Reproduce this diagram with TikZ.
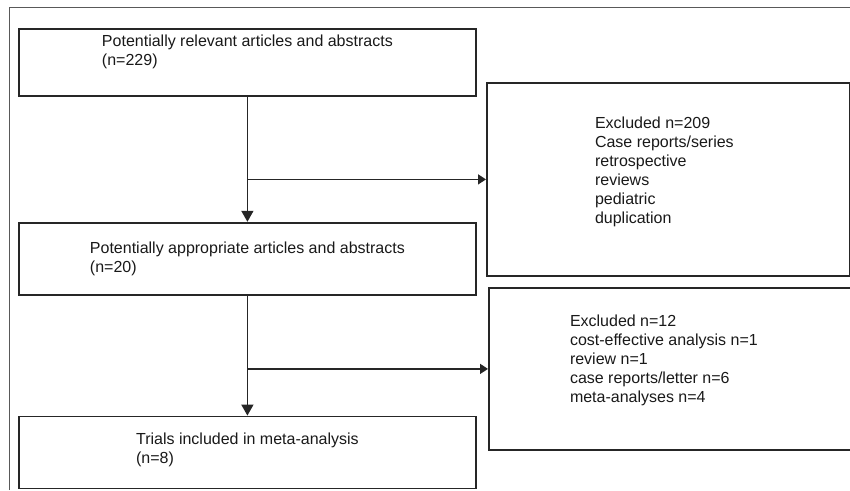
\documentclass[tikz,border=0pt]{standalone}
\usepackage{fontspec}
\setmainfont{Liberation Sans}
\usetikzlibrary{arrows.meta, positioning}

\begin{document}
\begin{tikzpicture}[
  x=1pt, y=-1pt,
  box/.style={draw=black!85, line width=1.8pt, minimum width=457pt, inner sep=0pt},
  txt/.style={align=left, inner sep=0pt, text=black!90, font=\fontsize{16}{19}\selectfont},
  arrow/.style={-{Triangle[length=11pt, width=12pt]}, line width=1.5pt, draw=black!85},
  sidearrow/.style={-{Triangle[length=8pt, width=10pt]}, line width=1.5pt, draw=black!85},
  frame/.style={draw=black!65, line width=1pt}
]
\clip (0,0) rectangle (850,490);

% Outer frame
\draw[frame] (9,490) -- (9,7) -- (850,7);

% Relevant articles box
\node[box, minimum height=67pt, anchor=north west] (rel) at (18,28) {};
\node[txt, below=7pt of rel.north] (reltxt) {Potentially relevant articles and abstracts\\(n=229)};

% Appropriate articles box
\node[box, minimum height=72pt, below=125pt of rel] (app) {};
\node[txt, below=20pt of app.north] (apptxt) {Potentially appropriate articles and abstracts\\(n=20)};

% Included trials box
\node[box, minimum height=72pt, below=120pt of app] (inc) {};
\node[txt, below=17pt of inc.north] (inctxt) {Trials included in meta-analysis\\(n=8)};

% First exclusion box
\node[box, minimum width=363pt, minimum height=193pt, anchor=north west] (exa) at (486,82) {};
\node[txt, below=35pt of exa.north, xshift=-4pt] (exatxt) {Excluded n=209\\Case reports/series\\retrospective\\reviews\\pediatric\\duplication};

% Second exclusion box
\node[box, minimum width=366pt, minimum height=162pt, anchor=north west] (exb) at (488,287) {};
\node[txt, below=28pt of exb.north, xshift=-8pt] (exbtxt) {Excluded n=12\\cost-effective analysis n=1\\review n=1\\case reports/letter n=6\\meta-analyses n=4};

% Main flow arrows
\draw[arrow] (rel) -- (app);
\draw[arrow] (app) -- (inc);

% Exclusion arrows
\coordinate (forka) at (rel.south |- exa.west);
\coordinate (forkb) at (app.south |- exb.west);
\draw[sidearrow] (forka) -- (exa.west);
\draw[sidearrow] (forkb) -- (exb.west);

\end{tikzpicture}
\end{document}
